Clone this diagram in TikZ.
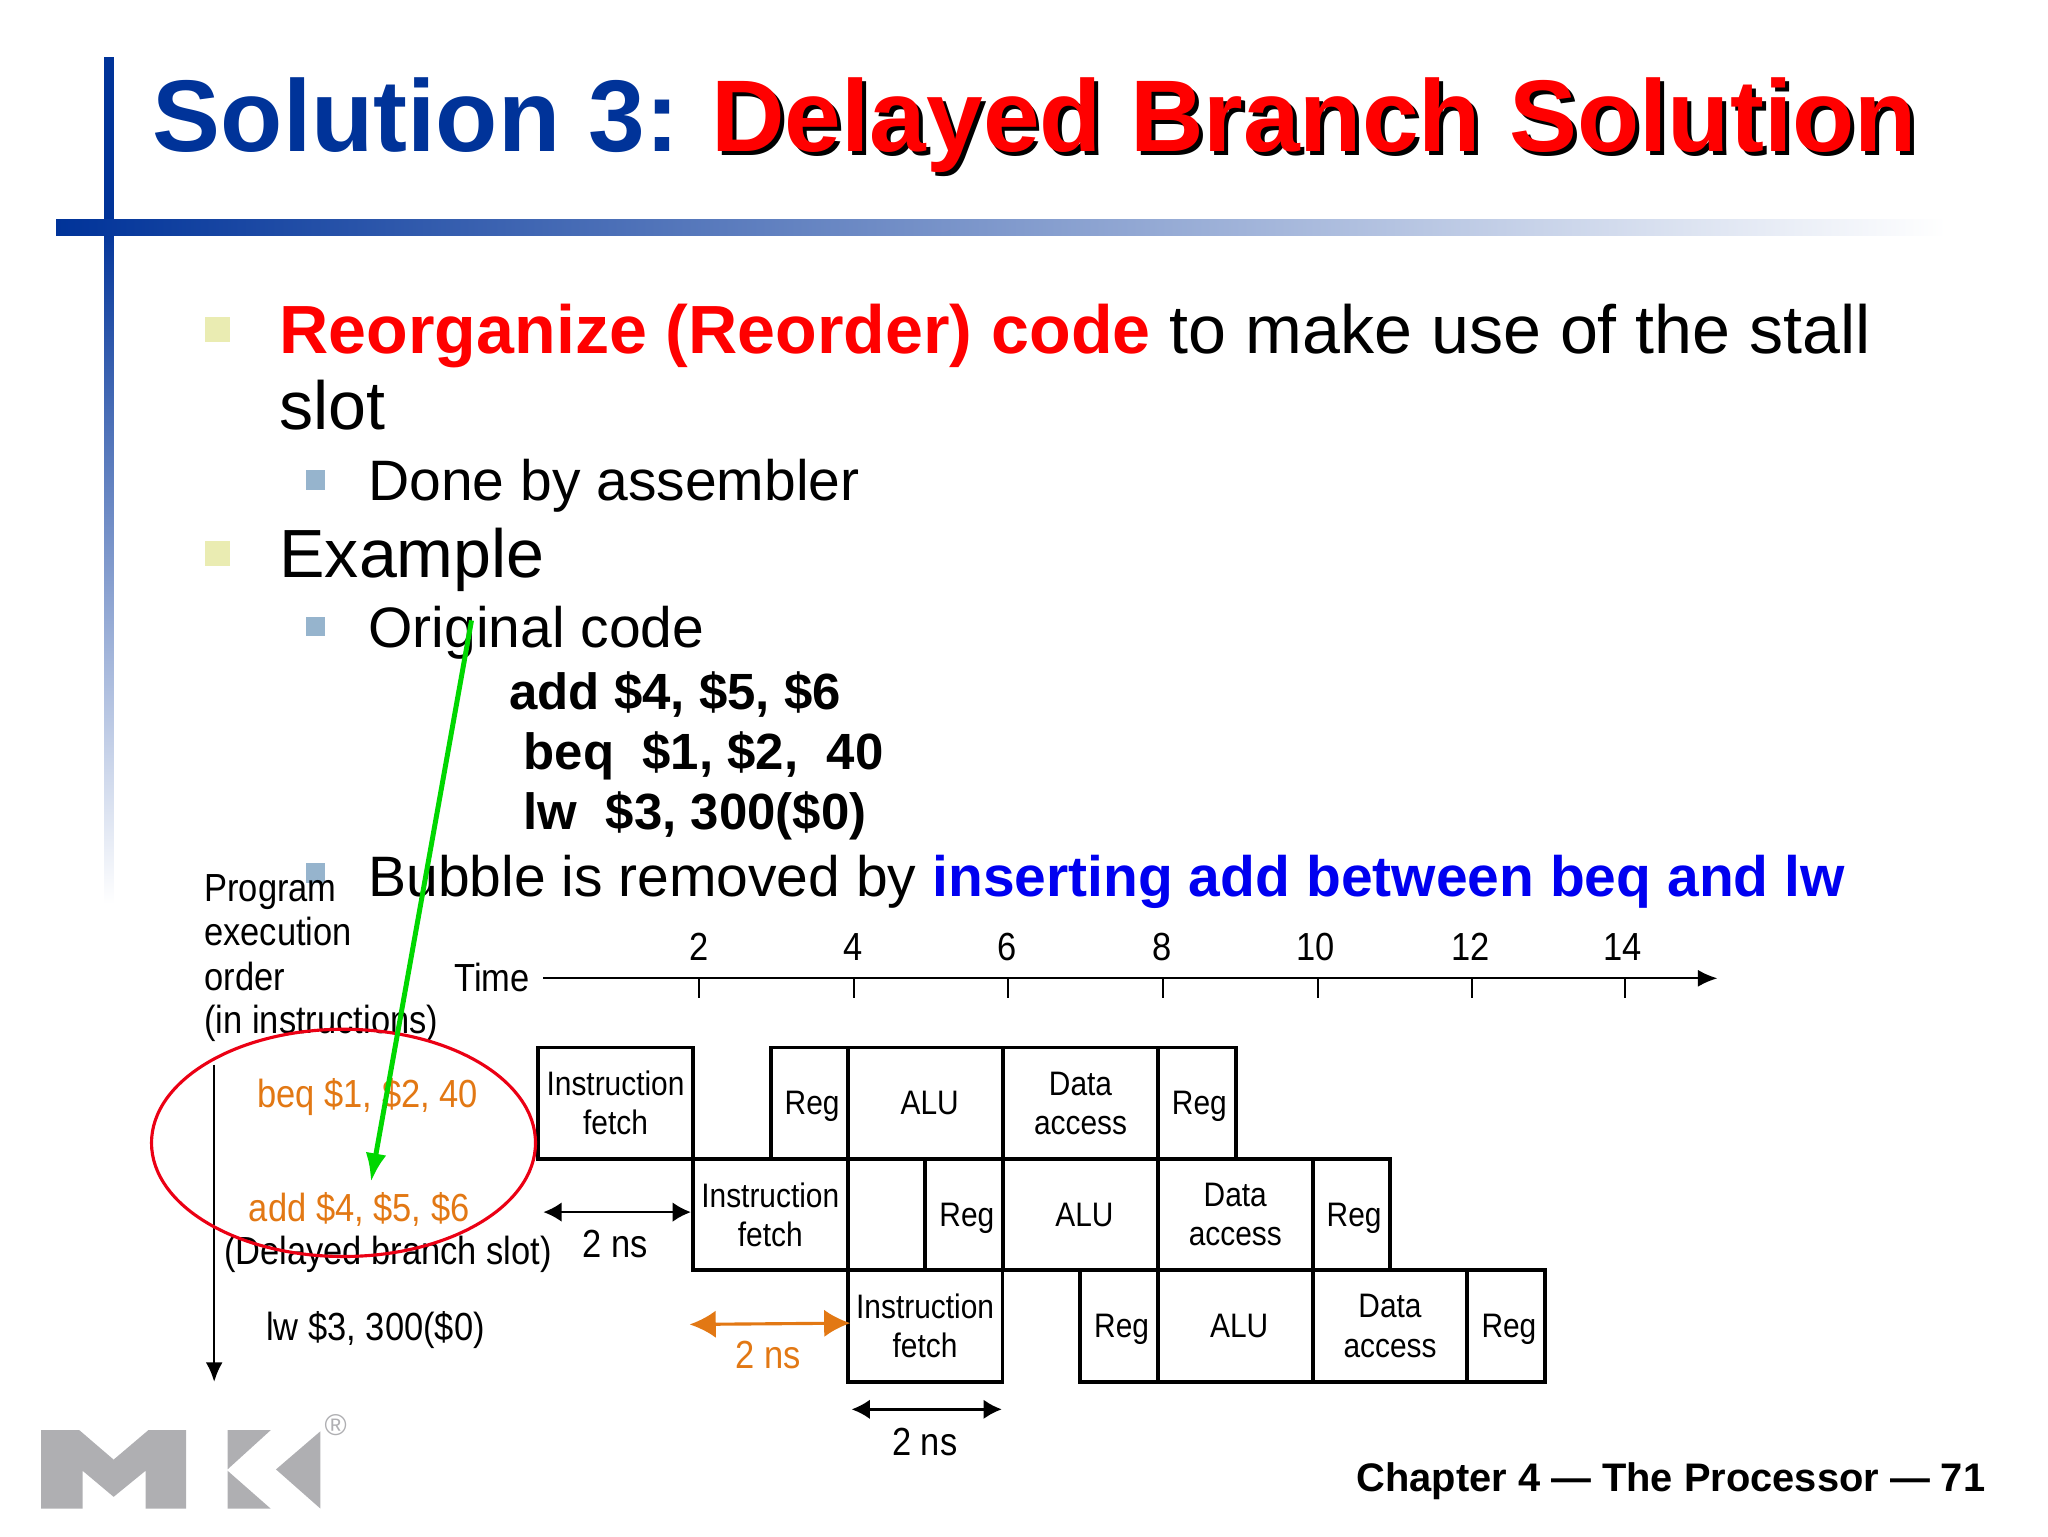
\documentclass[tikz,border=0pt]{standalone}
\usepackage{fontspec}
\setmainfont{Liberation Sans}
\newfontfamily\narrowfont[FakeStretch=0.88]{Liberation Sans}
\usetikzlibrary{arrows.meta, positioning}

\definecolor{slideblue}{RGB}{0,51,153}
\definecolor{slidered}{RGB}{255,0,0}
\definecolor{pureblue}{RGB}{0,0,240}
\definecolor{mkorange}{RGB}{226,120,20}
\definecolor{arrowgreen}{RGB}{0,215,0}
\definecolor{ringred}{RGB}{235,0,20}
\definecolor{logogray}{RGB}{175,175,178}
\definecolor{bulletyellow}{RGB}{234,236,178}
\definecolor{bulletblue}{RGB}{150,180,205}

\newcommand{\regtext}{\smash{\raisebox{-9pt}{\hspace*{4pt}Reg}}}
\newcommand{\alutext}{\smash{\raisebox{-9pt}{\hspace*{6pt}ALU}}}

\begin{document}
\begin{tikzpicture}[
    x=1pt, y=-1pt,
    node distance=0pt,
    every node/.style={inner sep=0pt, outer sep=0pt},
    titletext/.style={anchor=base west, font=\fontsize{78}{86}\selectfont\bfseries},
    bigtext/.style={anchor=base west, font=\fontsize{52.2}{60}\selectfont},
    midtext/.style={anchor=base west, font=\fontsize{43.65}{50}\selectfont},
    codetext/.style={anchor=base west, font=\fontsize{39}{46}\selectfont\bfseries},
    label/.style={anchor=base west, font=\narrowfont\fontsize{30}{34}\selectfont},
    centerlabel/.style={anchor=base, font=\narrowfont\fontsize{30}{34}\selectfont},
    stagebox/.style={rectangle, draw, line width=3pt, minimum height=85.3pt, align=center,
      font=\narrowfont\fontsize{26}{30}\selectfont},
    longbox/.style={stagebox, minimum width=118.5pt},
    regbox/.style={stagebox, minimum width=59.5pt},
    bulletone/.style={rectangle, fill=bulletyellow, minimum size=19pt},
    bullettwo/.style={rectangle, fill=bulletblue, minimum size=15pt},
    axisarrow/.style={-{Latex[length=15pt, width=13pt]}, line width=1.8pt},
    spanarrow/.style={{Latex[length=14pt, width=15pt]}-{Latex[length=14pt, width=15pt]}, line width=1.8pt}
  ]

  \useasboundingbox (0,0) rectangle (1568,1176);

  % bars of the slide
  \fill[slideblue] (80,44) rectangle (87,168);
  \shade[top color=slideblue, bottom color=white] (80,168) rectangle (87,692);
  \shade[left color=slideblue, right color=white] (43,168) rectangle (1490,180);

  % title
  \node[titletext, text=slideblue] (title) at (117,116) {Solution 3:};
  \node[titletext, text=black] (titleshadow) at (547.5,119) {Delayed Branch Solution};
  \node[titletext, text=slidered] (titlered) at (544.5,116) {Delayed Branch Solution};

  % bullets
  \node[bulletone] (bulletA) at (166.5,252.5) {};
  \node[bullettwo] (bulletB) at (241.5,367.5) {};
  \node[bulletone] (bulletC) at (166.5,423.5) {};
  \node[bullettwo] (bulletD) at (241.5,479.5) {};
  \node[bullettwo] (bulletE) at (241.5,668.5) {};

  \node[bigtext] (reorganize) at (214,271) {\textcolor{slidered}{\bfseries Reorganize (Reorder) code} to make use of the stall};
  \node[bigtext] (slot) at (214,329) {slot};
  \node[midtext] (done) at (282,383) {Done by assembler};
  \node[bigtext] (example) at (214,442) {Example};
  \node[midtext] (original) at (282,496) {Original code};
  \node[codetext] (codeadd) at (390,543) {add \$4, \$5, \$6};
  \node[codetext] (codebeq) at (401,589) {beq\ \ \$1, \$2,\ \ 40};
  \node[codetext] (codelw) at (401,635) {lw\ \ \$3, 300(\$0)};
  \node[midtext] (bubble) at (282,686) {Bubble is removed by \textcolor{pureblue}{\bfseries inserting add between beq and lw}};

  % time axis
  \node[label] (program) at (156.5,690) {Program};
  \node[label] (execution) at (156.5,724) {execution};
  \node[label] (order) at (156.5,758) {order};
  \node[label] (ininstr) at (156.5,791) {(in instructions)};
  \node[label] (time) at (348,759) {Time};
  \coordinate (timestart) at (416,749);
  \coordinate (timeend) at (1315,749);
  \draw[axisarrow] (timestart) -- (timeend);
  \node[centerlabel] (t2) at (535,735) {2};
  \node[centerlabel] (t4) at (653,735) {4};
  \node[centerlabel] (t6) at (771,735) {6};
  \node[centerlabel] (t8) at (889.5,735) {8};
  \node[centerlabel] (t10) at (1007.5,735) {10};
  \node[centerlabel] (t12) at (1126,735) {12};
  \node[centerlabel] (t14) at (1242,735) {14};
  \draw[line width=1.5pt] (535,749) -- ++(0,15);
  \draw[line width=1.5pt] (654,749) -- ++(0,15);
  \draw[line width=1.5pt] (772,749) -- ++(0,15);
  \draw[line width=1.5pt] (890.5,749) -- ++(0,15);
  \draw[line width=1.5pt] (1009,749) -- ++(0,15);
  \draw[line width=1.5pt] (1127,749) -- ++(0,15);
  \draw[line width=1.5pt] (1244,749) -- ++(0,15);

  \coordinate (orderstart) at (164,815);
  \coordinate (orderend) at (164,1058);
  \draw[axisarrow] (orderstart) -- (orderend);

  % instructions
  \node[centerlabel, text=mkorange] (beq) at (281.5,848) {beq \$1, \$2, 40};
  \node[centerlabel, text=mkorange] (add) at (275,935) {add \$4, \$5, \$6};
  \node[centerlabel] (delayed) at (297,968) {(Delayed branch slot)};
  \node[centerlabel] (lw) at (287.5,1026) {lw \$3, 300(\$0)};

  % first row
  \node[longbox, anchor=north west] (ifA) at (412,802) {Instruction\\fetch};
  \node[regbox, right=59.5pt of ifA] (regA) {\regtext};
  \node[longbox, right=of regA] (aluA) {\alutext};
  \node[longbox, right=of aluA] (dataA) {Data\\access};
  \node[regbox, right=of dataA] (regB) {\regtext};

  % second row
  \node[longbox, anchor=north west] (ifB) at (ifA.south east) {Instruction\\fetch};
  \node[regbox, right=59.5pt of ifB] (regC) {\regtext};
  \node[longbox, right=of regC] (aluB) {\alutext};
  \node[longbox, right=of aluB] (dataB) {Data\\access};
  \node[regbox, right=of dataB] (regD) {\regtext};

  % third row
  \node[longbox, anchor=north west] (ifC) at (ifB.south east) {Instruction\\fetch};
  \node[regbox, right=59.5pt of ifC] (regE) {\regtext};
  \node[longbox, right=of regE] (aluC) {\alutext};
  \node[longbox, right=of aluC] (dataC) {Data\\access};
  \node[regbox, right=of dataC] (regF) {\regtext};

  % spans
  \coordinate (spanAl) at (416,928);
  \coordinate (spanAr) at (529,928);
  \draw[spanarrow] (spanAl) -- (spanAr);
  \node[centerlabel] (nsA) at (471,963) {2 ns};
  \coordinate (spanBl) at (528,1014);
  \coordinate (spanBr) at (651,1013);
  \draw[{Latex[length=20pt, width=21pt]}-{Latex[length=20pt, width=21pt]}, line width=2.4pt, mkorange] (spanBl) -- (spanBr);
  \node[centerlabel, text=mkorange] (nsB) at (588,1048) {2 ns};
  \coordinate (spanCl) at (652,1079);
  \coordinate (spanCr) at (767,1079);
  \draw[spanarrow] (spanCl) -- (spanCr);
  \node[centerlabel] (nsC) at (708,1114) {2 ns};

  % ring and move arrow
  \draw[ringred, line width=2.4pt] (263,875) ellipse [x radius=147, y radius=87];
  \coordinate (movefrom) at (361,475);
  \coordinate (moveto) at (284,905);
  \draw[-{Latex[length=22pt, width=16pt]}, line width=3.8pt, arrowgreen] (movefrom) -- (moveto);

  % logo
  \fill[logogray] (31.5,1095) -- (60.8,1095) -- (87,1117.5) -- (113.5,1095) -- (142.5,1095) -- (142.5,1155)
    -- (111.5,1155) -- (111.5,1126) -- (87,1146) -- (63.2,1126) -- (63.2,1155) -- (31.5,1155) -- cycle;
  \fill[logogray] (174.2,1095) -- (207.2,1095) -- (174.2,1125) -- cycle;
  \fill[logogray] (174.2,1126) -- (207.2,1155) -- (174.2,1155) -- cycle;
  \fill[logogray] (245.3,1095.8) -- (211.3,1125) -- (245.3,1155) -- cycle;
  \node[text=logogray, font=\fontsize{23}{26}\selectfont] (registered) at (257,1091) {®};

  \node[anchor=base east, font=\fontsize{30.5}{34}\selectfont\bfseries] (footer) at (1520,1142) {Chapter 4 — The Processor — 71};

\end{tikzpicture}
\end{document}
